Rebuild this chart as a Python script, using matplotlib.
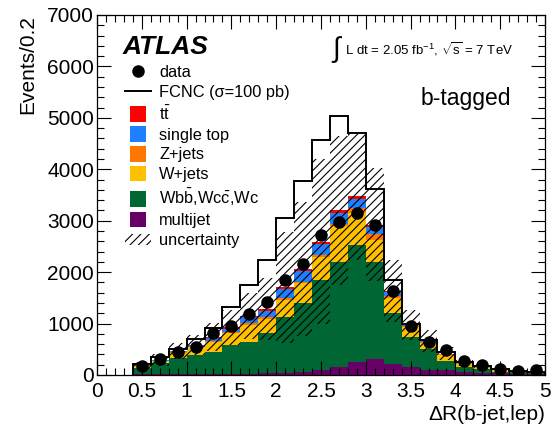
import numpy as np
import matplotlib
matplotlib.use("Agg")
import matplotlib.pyplot as plt
from matplotlib.patches import Rectangle, Patch
from matplotlib.lines import Line2D
from matplotlib.legend_handler import HandlerPatch
from matplotlib.ticker import MultipleLocator

plt.rcParams['font.family'] = ['Liberation Sans', 'DejaVu Sans']
plt.rcParams['mathtext.fontset'] = 'custom'
plt.rcParams['mathtext.rm'] = 'Liberation Sans'
plt.rcParams['mathtext.it'] = 'Liberation Sans:italic'
plt.rcParams['mathtext.bf'] = 'Liberation Sans:bold'
plt.rcParams['hatch.linewidth'] = 0.8

# ---- data (bins of 0.2 from 0.4 to 5.0) ----
bin_edges = np.round(np.arange(0.4, 5.0001, 0.2), 2)
bin_centers = np.round(bin_edges[:-1] + 0.1, 2)

multijet = [15, 15, 15, 20, 20, 25, 25, 30, 35, 60, 100, 160, 260, 320, 210, 150, 95, 95, 60, 45, 35, 25, 20]
wbb      = [115, 212, 309, 369, 435, 558, 623, 780, 1099, 1333, 1747, 2040, 2267, 1880, 990, 590, 405, 185, 100, 65, 30, 25, 20]
wjets    = [45, 45, 110, 150, 190, 240, 330, 285, 330, 390, 453, 693, 630, 430, 290, 190, 130, 110, 60, 50, 38, 22, 18]
zjets    = [5, 5, 10, 10, 15, 20, 25, 25, 32, 32, 32, 52, 85, 110, 52, 20, 15, 15, 10, 8, 6, 4, 3]
singletop = [8, 10, 18, 25, 52, 58, 117, 130, 181, 207, 214, 207, 175, 136, 65, 15, 10, 8, 5, 4, 3, 2, 2]
ttbar    = [4, 5, 8, 10, 25, 26, 32, 32, 32, 39, 45, 52, 65, 45, 32, 10, 8, 5, 3, 3, 2, 2, 2]
uncert   = [70, 110, 150, 200, 270, 340, 450, 600, 1080, 1300, 1600, 1450, 1250, 1100, 600, 290, 210, 120, 60, 45, 30, 20, 15]
fcnc_total = [215, 350, 505, 700, 915, 1330, 1750, 2230, 3050, 3780, 4570, 5040, 4710, 3620, 1850, 990, 680, 440, 250, 180, 118, 82, 67]
data     = [170, 310, 450, 545, 815, 950, 1180, 1420, 1850, 2150, 2720, 2980, 3150, 2910, 1630, 950, 640, 485, 275, 195, 115, 80, 95]

components = [
    (multijet, '#660066', 'multijet'),
    (wbb, '#006633', r'Wb$\bar{\mathrm{b}}$,Wc$\bar{\mathrm{c}}$,Wc'),
    (wjets, '#FFC000', 'W+jets'),
    (zjets, '#FF7700', 'Z+jets'),
    (singletop, '#1E7FFF', 'single top'),
    (ttbar, '#FF0000', r't$\bar{\mathrm{t}}$'),
]

fig = plt.figure(figsize=(5.52, 4.34), dpi=100)
ax = fig.add_axes([97/552, 1-375/434, 448/552, 360/434])

base = np.zeros(len(multijet))
for vals, col, lab in components:
    v = np.array(vals, dtype=float)
    ax.stairs(base + v, bin_edges, baseline=base.copy(), fill=True, color=col, linewidth=0)
    base = base + v
total = base

unc = np.array(uncert, dtype=float)
ax.stairs(total + unc, bin_edges, baseline=total - unc, fill=True, facecolor='none',
          edgecolor='black', hatch='////', linewidth=0)

ax.stairs(fcnc_total, bin_edges, color='black', linewidth=1.4)
ax.plot(bin_centers, data, 'o', color='black', markersize=8, zorder=5)

ax.set_xlim(0, 5)
ax.set_ylim(0, 7000)
ax.xaxis.set_major_locator(MultipleLocator(0.5))
ax.xaxis.set_minor_locator(MultipleLocator(0.1))
ax.yaxis.set_major_locator(MultipleLocator(1000))
ax.yaxis.set_minor_locator(MultipleLocator(200))
ax.tick_params(which='both', direction='in', top=True, right=True, labelsize=15)
ax.tick_params(which='major', length=10, width=0.8)
ax.tick_params(which='minor', length=5, width=0.8)
ax.tick_params(axis='y', pad=2)
ax.tick_params(axis='x', pad=5)
ax.xaxis.set_major_formatter(matplotlib.ticker.FuncFormatter(lambda v, p: ('%g' % v)))
for s in ax.spines.values():
    s.set_linewidth(0.9)

ax.set_ylabel('Events/0.2', fontsize=15, loc='top', labelpad=7)
ax.set_xlabel('ΔR(b-jet,lep)', fontsize=15, loc='right', labelpad=3)

ax.text(0.056, 0.912, 'ATLAS', transform=ax.transAxes, fontsize=19, fontweight='bold',
        fontstyle='italic', va='center', ha='left')
ax.text(0.522, 0.905, r'$\int$', transform=ax.transAxes, fontsize=20, va='center', ha='left')
ax.text(0.553, 0.905, r'L dt = 2.05 fb$^{\mathrm{-1}}$, $\sqrt{\mathrm{s}}$ = 7 TeV',
        transform=ax.transAxes, fontsize=9.5, va='center', ha='left')
ax.text(0.924, 0.769, 'b-tagged', transform=ax.transAxes, fontsize=16.5, va='center', ha='right')

def square(legend, orig_handle, xdescent, ydescent, width, height, fontsize):
    side = 0.95 * fontsize
    cx = -xdescent + width / 2
    cy = -ydescent + height / 2
    return Rectangle((cx - side / 2, cy - side / 2), side, side)

handles = [Line2D([], [], marker='o', color='black', linestyle='none', markersize=8),
           Line2D([], [], color='black', linewidth=1.4)]
labels = ['data', 'FCNC (σ=100 pb)']
sq = HandlerPatch(patch_func=square)
hmap = {}
for vals, col, lab in reversed(components):
    p = Patch(facecolor=col, edgecolor='none')
    handles.append(p)
    labels.append(lab)
    hmap[p] = sq
hp = Patch(facecolor='none', edgecolor='black', hatch='////', linewidth=0)
handles.append(hp)
labels.append('uncertainty')

leg = ax.legend(handles, labels, handler_map=hmap, loc='upper left', bbox_to_anchor=(0.0625, 0.862),
                frameon=False, fontsize=11.8, handlelength=1.6, handletextpad=0.5,
                borderpad=0, borderaxespad=0, labelspacing=0.3)

fig.savefig('out.png', dpi=100)
